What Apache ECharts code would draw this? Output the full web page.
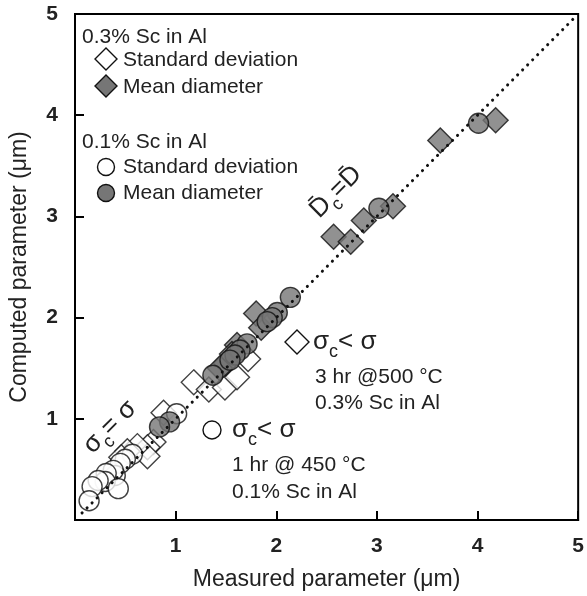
<!DOCTYPE html>
<html>
<head>
<meta charset="utf-8">
<script src="https://cdn.jsdelivr.net/npm/echarts@6/dist/echarts.min.js"></script>
<style>
  html, body { margin: 0; padding: 0; background: #fff; }
  #chart { width: 587px; height: 596px; }
</style>
</head>
<body>
<div id="chart"></div>
<script>
// Measured vs computed particle size parameters, Sc in Al.

const axisTicks = [0, 1, 2, 3, 4, 5];

// 0.3% Sc in Al
const meanDiamonds = [
  [4.18, 3.95], [3.63, 3.75], [3.16, 3.10], [2.87, 2.96], [2.57, 2.80],
  [2.74, 2.75], [1.80, 2.04], [1.85, 1.90], [1.61, 1.73], [1.56, 1.64],
  [1.50, 1.55], [1.44, 1.50],
];
const sdDiamonds = [
  [1.18, 1.36], [1.33, 1.29], [1.49, 1.31], [1.61, 1.41], [1.72, 1.59],
  [0.88, 1.06], [0.78, 0.77], [0.72, 0.72], [0.72, 0.63], [0.62, 0.73],
  [0.52, 0.68], [0.46, 0.62],
];

// 0.1% Sc in Al
const meanCircles = [
  [4.01, 3.92], [3.02, 3.08], [2.14, 2.20], [2.01, 2.05], [1.96, 2.00],
  [1.91, 1.96], [1.71, 1.74], [1.64, 1.68], [1.59, 1.63], [1.54, 1.58],
  [1.37, 1.43], [0.94, 0.97], [0.84, 0.92],
];
const sdCircles = [
  [1.01, 1.05], [0.57, 0.65], [0.50, 0.60], [0.45, 0.56], [0.40, 0.44],
  [0.38, 0.49], [0.31, 0.46], [0.30, 0.38], [0.23, 0.39], [0.17, 0.33],
  [0.43, 0.31], [0.14, 0.19],
];

const identityLine = [[0.07, 0.07], [4.96, 4.96]];

const FONT = '"Liberation Sans", Arial, sans-serif';
const GRAY = '#767676';

function diamondPoints(cx, cy, r) {
  return [[cx, cy - r], [cx + r, cy], [cx, cy + r], [cx - r, cy]];
}

function label(x, y, text, size) {
  return {
    type: 'text', x, y,
    style: { text, fill: '#222', font: `${size || 21}px ${FONT}`, verticalAlign: 'middle' },
  };
}

const sigmaRich = {
  s: { fontSize: 26, fontFamily: FONT, fill: '#222', verticalAlign: 'bottom' },
  c: { fontSize: 18, fontFamily: FONT, fill: '#222', verticalAlign: 'bottom', padding: [0, 0, -6, 0] },
};

const axisCommon = {
  type: 'value', min: 0, max: 5, interval: 1, nameLocation: 'middle',
  nameTextStyle: { fontSize: 23, fontFamily: FONT, color: '#222' },
  axisLine: { lineStyle: { color: '#000', width: 2 } },
  axisTick: { inside: true, length: 9, lineStyle: { color: '#000', width: 2 } },
  splitLine: { show: false },
};

function tickLabels(margin) {
  return {
    fontSize: 21, fontWeight: 'bold', fontFamily: FONT, color: '#222', margin,
    formatter: (v) => (v === axisTicks[0] ? '' : String(v)),
  };
}

const chart = echarts.init(document.getElementById('chart'));

chart.setOption({
  animation: false,
  grid: {
    left: 66, right: 5, top: 14, bottom: 67,
    show: true, borderColor: '#000', borderWidth: 2,
  },
  xAxis: Object.assign({}, axisCommon, {
    name: 'Measured parameter (μm)', nameGap: 48,
    axisLabel: tickLabels(16),
  }),
  yAxis: Object.assign({}, axisCommon, {
    name: 'Computed parameter (μm)', nameGap: 44,
    axisLabel: tickLabels(17),
  }),
  series: [
    {
      type: 'line', data: identityLine, symbol: 'none', silent: true,
      lineStyle: { color: '#111', width: 3, type: [0.1, 7], cap: 'round' },
    },
    {
      name: 'sd 0.3', type: 'scatter', data: sdDiamonds, symbol: 'diamond', symbolSize: 25,
      itemStyle: { color: '#fff', borderColor: '#111', borderWidth: 1.4 },
    },
    {
      name: 'sd 0.1', type: 'scatter', data: sdCircles, symbol: 'circle', symbolSize: 20,
      itemStyle: { color: '#fff', borderColor: '#111', borderWidth: 1.4 },
    },
    {
      name: 'mean 0.3', type: 'scatter', data: meanDiamonds, symbol: 'diamond', symbolSize: 25,
      itemStyle: { color: GRAY, borderColor: '#111', borderWidth: 1.4 },
    },
    {
      name: 'mean 0.1', type: 'scatter', data: meanCircles, symbol: 'circle', symbolSize: 20,
      itemStyle: { color: GRAY, borderColor: '#111', borderWidth: 1.4 },
    },
  ],
  graphic: [
    // legend block
    label(82, 37, '0.3% Sc in Al'),
    { type: 'polygon', shape: { points: diamondPoints(106, 59, 11) }, style: { fill: '#fff', stroke: '#111', lineWidth: 1.4 } },
    label(123, 60, 'Standard deviation'),
    { type: 'polygon', shape: { points: diamondPoints(106, 86, 11) }, style: { fill: GRAY, stroke: '#111', lineWidth: 1.4 } },
    label(123, 87, 'Mean diameter'),
    label(82, 142, '0.1% Sc in Al'),
    { type: 'circle', shape: { cx: 106, cy: 167, r: 8.5 }, style: { fill: '#fff', stroke: '#111', lineWidth: 1.4 } },
    label(123, 167, 'Standard deviation'),
    { type: 'circle', shape: { cx: 106, cy: 193, r: 8.5 }, style: { fill: GRAY, stroke: '#111', lineWidth: 1.4 } },
    label(123, 193, 'Mean diameter'),

    // diagonal line labels
    {
      type: 'text', x: 336, y: 192, rotation: Math.PI / 4,
      style: {
        text: '{s|D\u0304}{c|c}{s|=D\u0304}', rich: sigmaRich, align: 'center', verticalAlign: 'middle',
      },
    },
    {
      type: 'text', x: 110, y: 427, rotation: Math.PI / 4,
      style: {
        text: '{s|σ}{c|c}{s|= σ}', rich: sigmaRich, align: 'center', verticalAlign: 'middle',
      },
    },

    // 0.3% annotation
    { type: 'polygon', shape: { points: diamondPoints(297, 342, 12) }, style: { fill: '#fff', stroke: '#111', lineWidth: 1.4 } },
    {
      type: 'text', x: 313, y: 342,
      style: { text: '{s|σ}{c|c}{s|< σ}', rich: sigmaRich, verticalAlign: 'middle' },
    },
    label(315, 377, '3 hr @500 °C'),
    label(315, 403, '0.3% Sc in Al'),

    // 0.1% annotation
    { type: 'circle', shape: { cx: 212, cy: 430, r: 9 }, style: { fill: '#fff', stroke: '#111', lineWidth: 1.4 } },
    {
      type: 'text', x: 232, y: 430,
      style: { text: '{s|σ}{c|c}{s|< σ}', rich: sigmaRich, verticalAlign: 'middle' },
    },
    label(232, 465, '1 hr @ 450 °C'),
    label(232, 492, '0.1% Sc in Al'),
  ],
});
</script>
</body>
</html>
